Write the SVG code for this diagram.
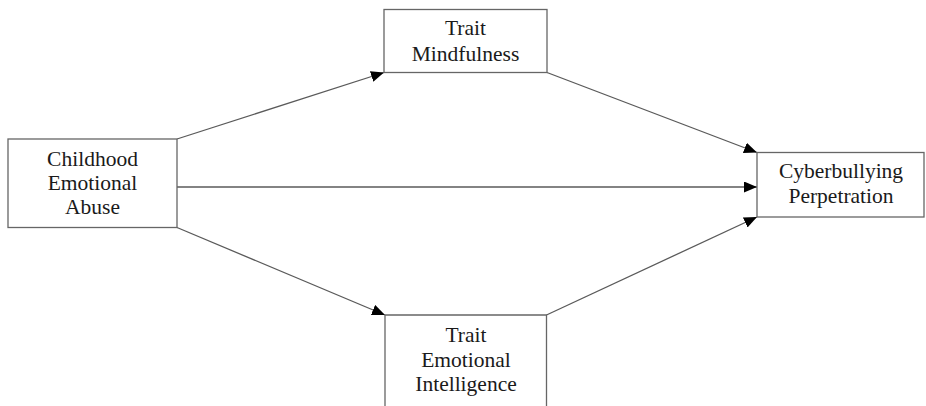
<svg xmlns="http://www.w3.org/2000/svg" width="926" height="406" viewBox="0 0 926 406">
<style>
.box{fill:#ffffff;stroke:#666666;stroke-width:1.3}
.lbl{font-family:"Liberation Serif","Times New Roman",serif;font-size:21.5px;fill:#1a1a1a;text-anchor:middle}
.edge{stroke:#5a5a5a;stroke-width:1.3;fill:none;marker-end:url(#arr)}
</style>
<defs>
<marker id="arr" markerUnits="userSpaceOnUse" markerWidth="13" markerHeight="11" refX="13" refY="5.5" orient="auto">
<path d="M0,0 L13,5.5 L0,11 z" fill="#000000"/>
</marker>
</defs>
<rect width="926" height="406" fill="#ffffff"/>
<g id="connectors">
<line class="edge" x1="177" y1="139" x2="384" y2="72.5"/>
<line class="edge" x1="547" y1="72.5" x2="757" y2="152.5"/>
<line class="edge" x1="177" y1="187" x2="757" y2="187"/>
<line class="edge" x1="177" y1="227.5" x2="385" y2="315"/>
<line class="edge" x1="546.5" y1="315" x2="757" y2="217"/>
</g>
<g id="childhood">
<rect class="box" x="8" y="139" width="169" height="88.5"/>
<text class="lbl" x="92.5" y="166">Childhood</text>
<text class="lbl" x="92.5" y="190">Emotional</text>
<text class="lbl" x="92.5" y="214">Abuse</text>
</g>
<g id="mindfulness">
<rect class="box" x="384" y="9.5" width="163" height="63"/>
<text class="lbl" x="465.5" y="35">Trait</text>
<text class="lbl" x="465.5" y="61">Mindfulness</text>
</g>
<g id="ei">
<path class="box" d="M385,410 L385,315 L546.5,315 L546.5,410"/>
<text class="lbl" x="466" y="342">Trait</text>
<text class="lbl" x="466" y="366.5">Emotional</text>
<text class="lbl" x="466" y="391">Intelligence</text>
</g>
<g id="cyber">
<rect class="box" x="757" y="152.5" width="167" height="64.5"/>
<text class="lbl" x="841" y="178">Cyberbullying</text>
<text class="lbl" x="841" y="203">Perpetration</text>
</g>
</svg>
